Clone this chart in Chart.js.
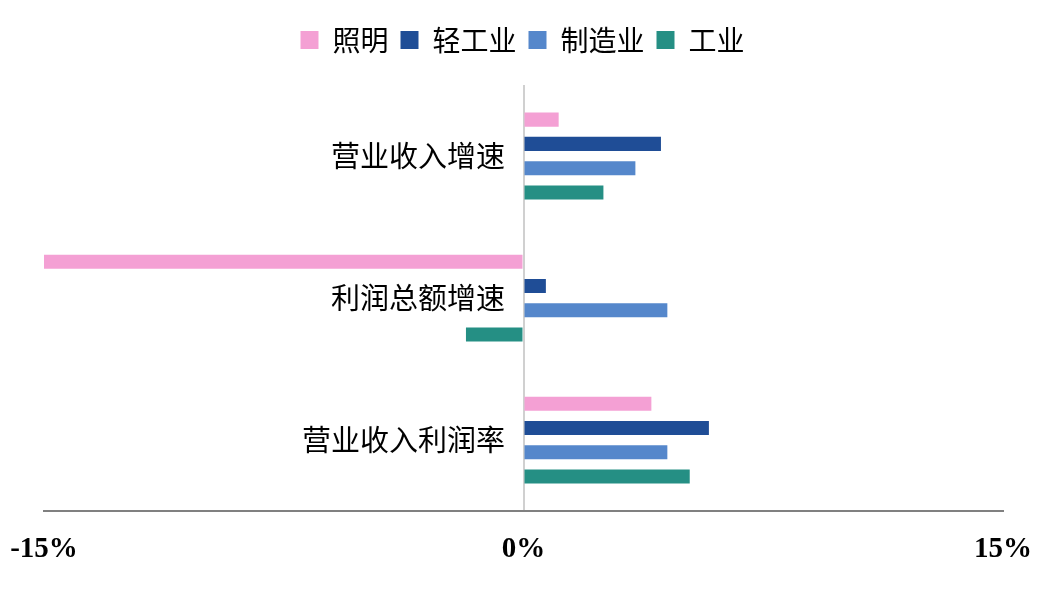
<!DOCTYPE html>
<html>
<head>
<meta charset="utf-8">
<script src="https://cdn.jsdelivr.net/npm/chart.js@4.4.1/dist/chart.umd.min.js"></script>
<style>
    html, body { margin: 0; padding: 0; background: white; }
    #growthChart { display: block; }
</style>
</head>
<body>
<canvas id="growthChart" width="1045" height="598"></canvas>
<script>
const categories = ["营业收入增速", "利润总额增速", "营业收入利润率"];
const seriesNames = ["照明", "轻工业", "制造业", "工业"];
const lighting = [1.1, -15.0, 4.0];
const lightIndustry = [4.3, 0.7, 5.8];
const manufacturing = [3.5, 4.5, 4.5];
const industry = [2.5, -1.8, 5.2];
const xTicks = [-15, 0, 15];
const colors = ["#F4A0D4", "#1F4D96", "#5587CB", "#258F84"];

// extra gap between the legend and the plot area
const legendGap = {
    id: "legendGap",
    beforeInit(chart) {
        const fit = chart.legend.fit;
        chart.legend.fit = function () {
            fit.bind(chart.legend)();
            this.height += 21;
        };
    }
};

function growthChart() {
    let values = [lighting, lightIndustry, manufacturing, industry];
    let datasets = new Array();
    for (let i = 0; i < seriesNames.length; i++) {
        datasets.push({
            label: seriesNames[i],
            backgroundColor: colors[i],
            data: values[i],
            categoryPercentage: 0.683,
            barPercentage: 0.58
        });
    }
    new Chart("growthChart", {
        type: "bar",
        data: {
            labels: categories,
            datasets: datasets
        },
        plugins: [legendGap],
        options: {
            indexAxis: "y",
            responsive: false,
            animation: false,
            devicePixelRatio: 1,
            layout: {
                padding: { left: 0, right: 0, top: 14, bottom: 10 }
            },
            plugins: {
                legend: {
                    position: "top",
                    labels: {
                        boxWidth: 18,
                        boxHeight: 18,
                        padding: 12,
                        color: "black",
                        font: {
                            family: "'Noto Sans CJK SC'",
                            size: 28
                        }
                    }
                },
                tooltip: {
                    enabled: false
                }
            },
            scales: {
                x: {
                    min: xTicks[0],
                    max: xTicks[xTicks.length - 1],
                    afterBuildTicks: (scale) => {
                        scale.ticks = xTicks.map(v => ({ value: v }));
                    },
                    afterFit: (scale) => {
                        // plot area runs from x=44 to x=1003
                        scale.paddingLeft = 44;
                        scale.paddingRight = 42;
                    },
                    grid: {
                        drawTicks: false,
                        lineWidth: 2,
                        color: (ctx) => (ctx.tick && ctx.tick.value === 0) ? "#d0d0d0" : "rgba(0,0,0,0)"
                    },
                    border: {
                        color: "#808080",
                        width: 2
                    },
                    ticks: {
                        color: "black",
                        padding: 21,
                        maxRotation: 0,
                        font: {
                            family: "'Liberation Serif'",
                            size: 29,
                            weight: "bold"
                        },
                        callback: function (value) {
                            return `${value}%`;
                        }
                    }
                },
                y: {
                    position: { x: -0.58 },
                    grid: {
                        display: false
                    },
                    border: {
                        display: false
                    },
                    ticks: {
                        color: "black",
                        font: {
                            family: "'Noto Sans CJK SC'",
                            size: 29
                        }
                    }
                }
            }
        }
    });
}
growthChart();
</script>
</body>
</html>
